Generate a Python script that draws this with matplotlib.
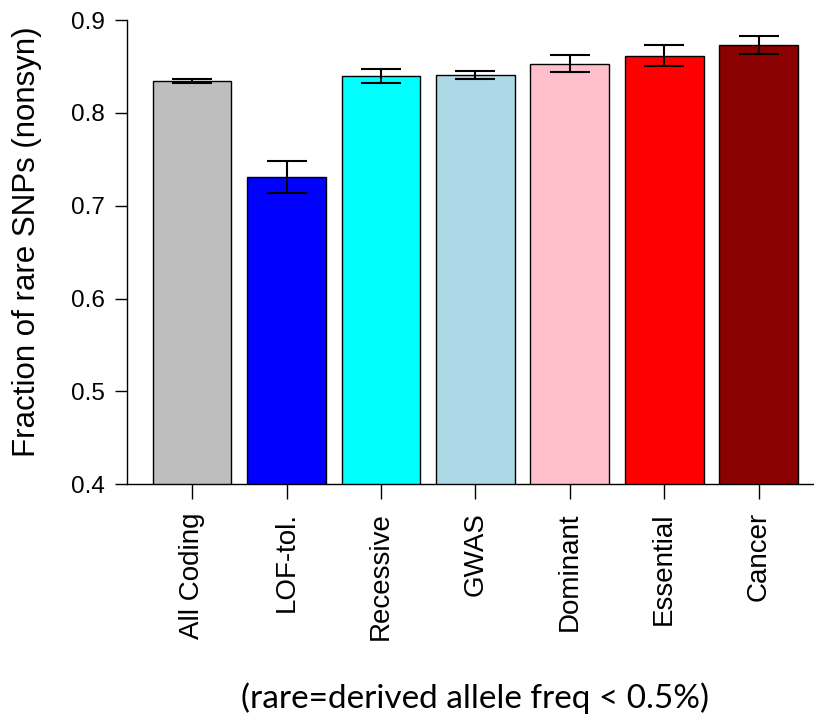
import numpy as np
import matplotlib.pyplot as plt

plt.rcParams['font.family'] = ['Liberation Sans', 'DejaVu Sans']

categories = ['All Coding', 'LOF-tol.', 'Recessive', 'GWAS', 'Dominant', 'Essential', 'Cancer']
fractions = [0.834, 0.731, 0.8395, 0.841, 0.853, 0.861, 0.8735]
err_low = [0.832, 0.714, 0.832, 0.8366, 0.844, 0.850, 0.863]
err_high = [0.8365, 0.748, 0.847, 0.845, 0.862, 0.873, 0.883]
colors = ['#BEBEBE', '#0000FF', '#00FFFF', '#ADD8E6', '#FFC0CB', '#FF0000', '#8B0000']

fig = plt.figure(figsize=(8.14, 7.18), dpi=100)
ax = fig.add_axes([0.156, 0.3255, 0.856, 0.6466])

# R barplot style positions: width 1, space 0.2
x = 0.7 + 1.2 * np.arange(len(categories))
vals = np.array(fractions)
yerr = np.array([vals - np.array(err_low), np.array(err_high) - vals])

ax.bar(x, vals, width=1.0, color=colors, edgecolor='black', linewidth=1.0,
       bottom=0, zorder=2)
ax.errorbar(x, vals, yerr=yerr, fmt='none', ecolor='black', elinewidth=1.5,
            capsize=14.4, capthick=1.5, zorder=3)

ax.set_xlim(-0.128, 8.728)
ax.set_ylim(0.4, 0.9)
ax.axhline(0.4, color='black', lw=1.0, zorder=4, clip_on=False)

for s in ['top', 'right', 'bottom']:
    ax.spines[s].set_visible(False)
ax.spines['left'].set_bounds(0.4, 0.9)
ax.spines['left'].set_linewidth(1.0)

ax.set_yticks([0.4, 0.5, 0.6, 0.7, 0.8, 0.9])
ax.set_yticklabels(['0.4', '0.5', '0.6', '0.7', '0.8', '0.9'])
ax.tick_params(axis='y', length=9, width=1.0, pad=7, labelsize=17.5)

ax.set_xticks(x)
ax.set_xticklabels(categories, rotation=90)
ax.tick_params(axis='x', length=11, width=1.0, pad=9, labelsize=20)

fig.text(27 / 814, 1 - 242 / 718, 'Fraction of rare SNPs (nonsyn)', rotation=90,
         ha='center', va='center', fontsize=22.5)
fig.text(475 / 814, 1 - 698 / 718, '(rare=derived allele freq < 0.5%)',
         ha='center', va='center', fontsize=24, family=['Lato', 'DejaVu Sans'])

fig.savefig('out.png', dpi=100)
